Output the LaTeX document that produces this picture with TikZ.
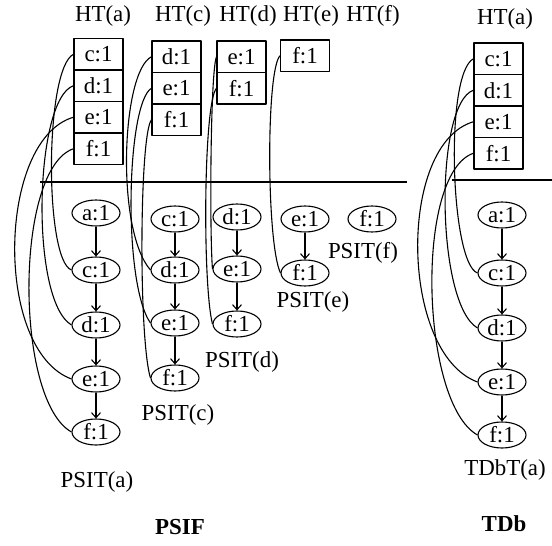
\documentclass[tikz,border=0pt]{standalone}
\usepackage{fontspec}
\setmainfont{Liberation Serif}
\usetikzlibrary{shapes.geometric,arrows.meta}
\begin{document}
\begin{tikzpicture}[x=1bp,y=-1bp,>={Straight Barb[length=5bp,width=9bp]},line join=bevel,
  every node/.append style={font=\fontsize{23}{26}\selectfont},
  entry/.style={rectangle, draw=black, minimum width=49bp, minimum height=31.5bp, inner sep=0pt},
  item/.style={ellipse, draw=black, minimum width=48bp, minimum height=26bp, inner sep=0pt},
  caption/.style={inner sep=0pt},
  big/.style={inner sep=0pt, font=\fontsize{23}{26}\selectfont\bfseries} ]
  \pgfsetlinewidth{1.1bp}
  \useasboundingbox (0,0) rectangle (552,546);
%%
  % Separator lines
  \draw (40,182) -- (407,182);
  \draw (452,180) -- (552,180);
  % Header tables
  \node[caption] (lhta) at (103,16) {HT(a)};
  \node[entry] (ha-c) at (98.5,54.25) {c:1};
  \node[entry] (ha-d) at (98.5,85.75) {d:1};
  \node[entry] (ha-e) at (98.5,117.25) {e:1};
  \node[entry] (ha-f) at (98.5,148.75) {f:1};
  \node[caption] (lhtc) at (183,16) {HT(c)};
  \node[entry] (hc-d) at (176.5,56.75) {d:1};
  \node[entry] (hc-e) at (176.5,88.25) {e:1};
  \node[entry] (hc-f) at (176.5,119.75) {f:1};
  \node[caption] (lhtd) at (248,16) {HT(d)};
  \node[entry] (hd-e) at (241.5,56.75) {e:1};
  \node[entry] (hd-f) at (241.5,88.25) {f:1};
  \node[caption] (lhte) at (311,16) {HT(e)};
  \node[entry] (he-f) at (305,55.75) {f:1};
  \node[caption] (lhtf) at (373,16) {HT(f)};
  \node[caption] (rhta) at (505,19) {HT(a)};
  \node[entry] (ra-c) at (498.5,58.75) {c:1};
  \node[entry] (ra-d) at (498.5,90.25) {d:1};
  \node[entry] (ra-e) at (498.5,121.75) {e:1};
  \node[entry] (ra-f) at (498.5,153.25) {f:1};
  % Node: PSIT(a)
  \node[item] (pa-a) at (96,213) {a:1};
  \node[item] (pa-c) at (96,270) {c:1};
  \node[item] (pa-d) at (96,325) {d:1};
  \node[item] (pa-e) at (96,379) {e:1};
  \node[item] (pa-f) at (96,432) {f:1};
  \node[caption] (lpa) at (97,482) {PSIT(a)};
  % Node: PSIT(c)
  \node[item] (pc-c) at (175,219) {c:1};
  \node[item] (pc-d) at (175,270) {d:1};
  \node[item] (pc-e) at (175,323) {e:1};
  \node[item] (pc-f) at (175,378) {f:1};
  \node[caption] (lpc) at (178,415) {PSIT(c)};
  % Node: PSIT(d)
  \node[item] (pd-d) at (237,217) {d:1};
  \node[item] (pd-e) at (237,269) {e:1};
  \node[item] (pd-f) at (237,324) {f:1};
  \node[caption] (lpd) at (242,362) {PSIT(d)};
  % Node: PSIT(e)
  \node[item] (pe-e) at (305,219) {e:1};
  \node[item] (pe-f) at (305,273) {f:1};
  \node[caption] (lpe) at (313,302) {PSIT(e)};
  % Node: PSIT(f)
  \node[item] (pf-f) at (372,219) {f:1};
  \node[caption] (lpf) at (363,253) {PSIT(f)};
  % Node: TDbT(a)
  \node[item] (ta-a) at (502,215) {a:1};
  \node[item] (ta-c) at (502,273) {c:1};
  \node[item] (ta-d) at (502,328) {d:1};
  \node[item] (ta-e) at (502,382) {e:1};
  \node[item] (ta-f) at (502,435) {f:1};
  \node[caption] (lta) at (505,470) {TDbT(a)};
  % Titles
  \node[big] (psif) at (180,527) {PSIF};
  \node[big] (tdb) at (504,524) {TDb};
  % Edge: chains
  \draw[->] (pa-a) -- (pa-c);
  \draw[->] (pa-c) -- (pa-d);
  \draw[->] (pa-d) -- (pa-e);
  \draw[->] (pa-e) -- (pa-f);
  \draw[->] (pc-c) -- (pc-d);
  \draw[->] (pc-d) -- (pc-e);
  \draw[->] (pc-e) -- (pc-f);
  \draw[->] (pd-d) -- (pd-e);
  \draw[->] (pd-e) -- (pd-f);
  \draw[->] (pe-e) -- (pe-f);
  \draw[->] (ta-a) -- (ta-c);
  \draw[->] (ta-c) -- (ta-d);
  \draw[->] (ta-d) -- (ta-e);
  \draw[->] (ta-e) -- (ta-f);
  % Edge: HT(a) -- PSIT(a)
  \draw (ha-c.west) .. controls +(-29,15) and +(-27,-10) .. (pa-c.west);
  \draw (ha-d.west) .. controls +(-39,13) and +(-42,-25) .. (pa-d.west);
  \draw (ha-e.west) .. controls +(-76,22) and +(-78,-29) .. (pa-e.west);
  \draw (ha-f.west) .. controls +(-59,20) and +(-57,-32) .. (pa-f.west);
  % Edge: HT(c) -- PSIT(c)
  \draw (hc-d.west) .. controls +(-30,15) and +(-35,-40) .. (pc-d.west);
  \draw (hc-e.west) .. controls +(-25,15) and +(-28,-40) .. (pc-e.west);
  \draw (hc-f.west) .. controls +(-12,15) and +(-12,-40) .. (pc-f.west);
  % Edge: HT(d) -- PSIT(d)
  \draw (hd-e.west) .. controls +(-6,15) and +(-3,-40) .. (pd-e.west);
  \draw (hd-f.west) .. controls +(-13,15) and +(-10,-40) .. (pd-f.west);
  % Edge: HT(e) -- PSIT(e)
  \draw (he-f.west) .. controls +(-14,15) and +(-14,-30) .. (pe-f.west);
  % Edge: HT(a) -- TDbT(a)
  \draw (ra-c.west) .. controls +(-29,15) and +(-27,-10) .. (ta-c.west);
  \draw (ra-d.west) .. controls +(-39,13) and +(-42,-25) .. (ta-d.west);
  \draw (ra-e.west) .. controls +(-76,22) and +(-78,-29) .. (ta-e.west);
  \draw (ra-f.west) .. controls +(-59,20) and +(-57,-32) .. (ta-f.west);
%
\end{tikzpicture}
\end{document}
